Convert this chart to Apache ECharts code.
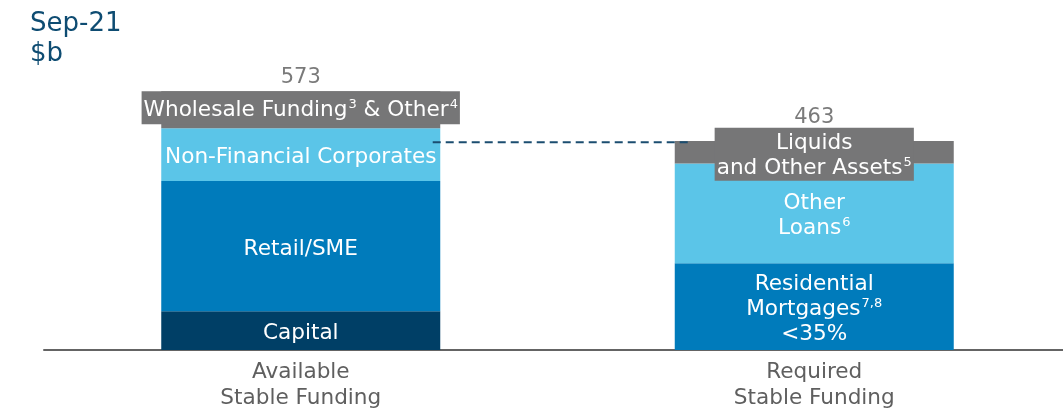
<!DOCTYPE html>
<html>
<head>
<meta charset="utf-8">
<script src="https://cdn.jsdelivr.net/npm/echarts@6/dist/echarts.min.js"></script>
<style>
html,body{margin:0;padding:0;background:#fff;}
#chart{width:1063px;height:411px;}
</style>
</head>
<body>
<div id="chart"></div>
<script>
// ---- data ----
var categories = ['Available\nStable Funding', 'Required\nStable Funding'];
var capital = [86, '-'];
var retailSME = [288, '-'];
var nonFinancial = [117, '-'];
var wholesale = [82, '-'];
var residential = ['-', 192];
var otherLoans = ['-', 221];
var liquids = ['-', 50];
var totals = [573, 463];
var dashLevel = 460;
var dashFrom = 0.757, dashTo = 1.255; // positions along the category span (0..2)

var FONT = '"DejaVu Sans", Verdana, sans-serif';
var C_NAVY = '#003f66', C_BLUE = '#007bbb', C_LIGHT = '#5bc5e8', C_GRAY = '#767677';
var FS = 21.6;

function segLabel(text, extra) {
  var l = {
    show: true, position: 'inside', color: '#fff', fontFamily: FONT, fontSize: FS, lineHeight: 25,
    formatter: text, offset: [0, 3],
    rich: {
      s: {fontSize: 13, color: '#fff', fontFamily: FONT, verticalAlign: 'top', lineHeight: 25, padding: [0, 0, 10, 1]},
      t: {fontSize: FS, color: '#fff', fontFamily: FONT, lineHeight: 25}
    }
  };
  for (var k in extra) l[k] = extra[k];
  return l;
}

var chart = echarts.init(document.getElementById('chart'));
chart.setOption({
  animation: false,
  title: {
    text: 'Sep-21\n$b', left: 25, top: 4,
    textStyle: {fontFamily: FONT, fontSize: 26, fontWeight: 'normal', color: '#0e4c72', lineHeight: 30}
  },
  grid: {left: 44, width: 1027, top: 79, bottom: 61, outerBoundsMode: 'none', containLabel: false},
  xAxis: [{
    type: 'category', data: categories,
    axisLine: {show: true, lineStyle: {color: '#646464', width: 2}},
    axisTick: {show: false},
    axisLabel: {fontFamily: FONT, fontSize: FS, color: '#5f5f5f', lineHeight: 26, margin: 9}
  }, {
    type: 'value', min: 0, max: 2, show: false
  }],
  yAxis: {type: 'value', min: 0, max: 600, show: false, splitLine: {show: false}},
  series: [
    {name: 'Capital', type: 'bar', stack: 'a', barWidth: 279, data: capital,
     itemStyle: {color: C_NAVY}, label: segLabel('Capital')},
    {name: 'Retail/SME', type: 'bar', stack: 'a', data: retailSME,
     itemStyle: {color: C_BLUE}, label: segLabel('Retail/SME')},
    {name: 'Non-Financial Corporates', type: 'bar', stack: 'a', data: nonFinancial,
     itemStyle: {color: C_LIGHT}, label: segLabel('Non-Financial Corporates')},
    {name: 'Wholesale', type: 'bar', stack: 'a', data: wholesale,
     itemStyle: {color: C_GRAY},
     label: segLabel('{t|Wholesale Funding}{s|3}{t| & Other}{s|4}', {backgroundColor: C_GRAY, padding: [7, 2, 1, 2], offset: [0, -2]})},
    {name: 'Residential', type: 'bar', stack: 'a', data: residential,
     itemStyle: {color: C_BLUE},
     label: segLabel('{t|Residential}\n{t|Mortgages}{s|7,8}\n{t|<35%}')},
    {name: 'Other Loans', type: 'bar', stack: 'a', data: otherLoans,
     itemStyle: {color: C_LIGHT},
     label: segLabel('{t|Other}\n{t|Loans}{s|6}')},
    {name: 'Liquids', type: 'bar', stack: 'a', data: liquids,
     itemStyle: {color: C_GRAY},
     label: segLabel('{t|Liquids}\n{t|and Other Assets}{s|5}', {backgroundColor: C_GRAY, padding: [3, 2, 0, 2], offset: [0, 2]})},
    {name: 'Total', type: 'scatter', data: [
       {value: totals[0], label: {distance: 3}},
       {value: totals[1], label: {distance: 12}}
     ],
     symbolSize: 1, itemStyle: {color: 'rgba(0,0,0,0)'}, z: 5,
     label: {show: true, position: 'top', fontFamily: FONT, fontSize: 21, color: '#595959'}},
    {name: 'Dash', type: 'line', xAxisIndex: 1, yAxisIndex: 0, symbol: 'none', z: 10,
     data: [[dashFrom, dashLevel], [dashTo, dashLevel]],
     lineStyle: {color: '#1b4d70', width: 2, type: [8, 5]}}
  ]
});
</script>
</body>
</html>
